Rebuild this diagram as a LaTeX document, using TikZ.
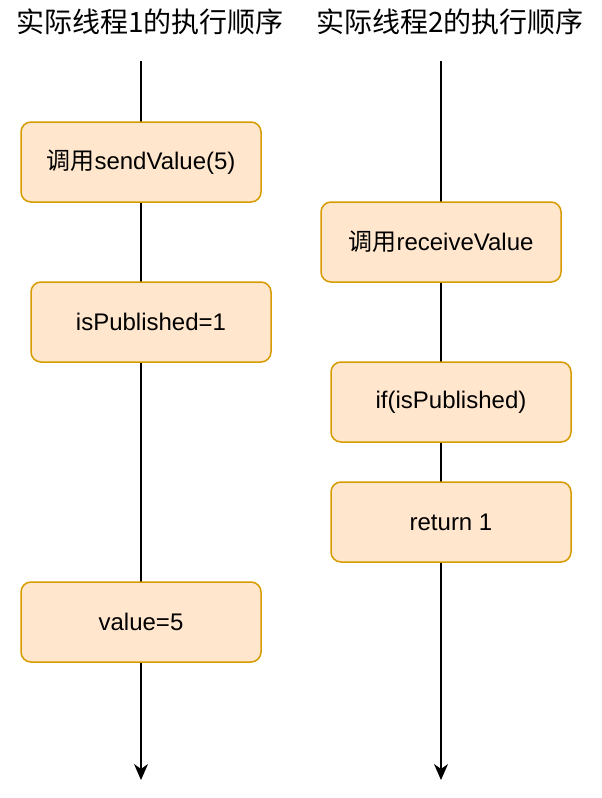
\documentclass[tikz,border=0pt]{standalone}
\usepackage{fontspec}
\setmainfont{Liberation Sans}
\newfontfamily\cjk{Noto Sans CJK SC}
\usetikzlibrary{arrows.meta}
\definecolor{boxfill}{HTML}{FFE6CC}
\definecolor{boxline}{HTML}{D79B00}

\begin{document}
\begin{tikzpicture}[x=1pt,y=-1pt,
    stepbox/.style={draw=boxline,fill=boxfill,line width=1.5pt,rounded corners=10pt,
      minimum width=240pt,minimum height=80pt,inner sep=0pt,
      font=\fontsize{24}{28}\selectfont},
    title/.style={font=\cjk\fontsize{28}{32}\selectfont,inner sep=0pt},
    timeline/.style={line width=1.5pt,-{Stealth[length=16pt,width=14pt,inset=5pt]}}]
    \useasboundingbox (0,0) rectangle (602,798);

    % the two time lines
    \coordinate (t1start) at (141,61);
    \coordinate (t1end) at (141,780);
    \coordinate (t2start) at (441,61);
    \coordinate (t2end) at (441,780);
    \draw[timeline] (t1start) -- (t1end);
    \draw[timeline] (t2start) -- (t2end);

    \node[title] (title1) at (150,22) {实际线程1的执行顺序};
    \node[title] (title2) at (450,22) {实际线程2的执行顺序};

    % thread 1
    \node[stepbox] (send) at (141,162) {{\cjk 调用}sendValue(5)};
    \node[stepbox] (publish) at (151,322) {isPublished=1};
    \node[stepbox] (value) at (141,622) {value=5};

    % thread 2
    \node[stepbox] (receive) at (441,242) {{\cjk 调用}receiveValue};
    \node[stepbox] (check) at (451,402) {if(isPublished)};
    \node[stepbox] (ret) at (451,522) {return 1};
  \end{tikzpicture}
\end{document}
